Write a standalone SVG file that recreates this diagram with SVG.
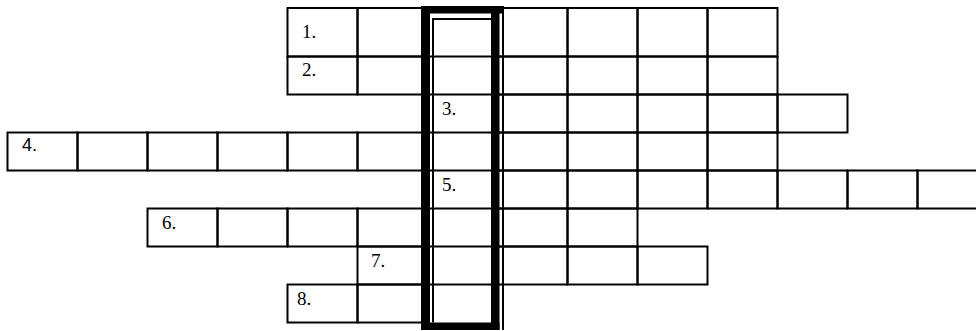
<svg xmlns="http://www.w3.org/2000/svg" width="976" height="331" viewBox="0 0 976 331">
<style>
.cell{fill:none;stroke:#000;stroke-width:2}
.div{stroke:#000;stroke-width:2}
.bar{fill:#000}
.num{font-family:"Liberation Serif","Times New Roman",serif;font-size:19px;fill:#000}
.sans{font-family:"Liberation Sans",Arial,sans-serif;font-size:18px;fill:#000}
</style>
<defs>
<rect id="c" class="cell" width="70" height="38"/>
</defs>
<rect width="976" height="331" fill="#fff"/>
<g id="row1">
<rect class="cell" x="287.5" y="8" width="70" height="48.5"/>
<rect class="cell" x="357.5" y="8" width="70" height="48.5"/>
<rect class="cell" x="497.5" y="8" width="70" height="48.5"/>
<rect class="cell" x="567.5" y="8" width="70" height="48.5"/>
<rect class="cell" x="637.5" y="8" width="70" height="48.5"/>
<rect class="cell" x="707.5" y="8" width="70" height="48.5"/>
<text class="num" x="302" y="38">1.</text>
</g>
<g id="row2">
<use href="#c" x="287.5" y="56.5"/><use href="#c" x="357.5" y="56.5"/>
<use href="#c" x="497.5" y="56.5"/><use href="#c" x="567.5" y="56.5"/><use href="#c" x="637.5" y="56.5"/><use href="#c" x="707.5" y="56.5"/>
<text class="num" x="302" y="76">2.</text>
</g>
<g id="row3">
<use href="#c" x="497.5" y="94.5"/><use href="#c" x="567.5" y="94.5"/><use href="#c" x="637.5" y="94.5"/><use href="#c" x="707.5" y="94.5"/><use href="#c" x="777.5" y="94.5"/>
<text class="num" x="442" y="115">3.</text>
</g>
<g id="row4">
<use href="#c" x="7.5" y="132.5"/><use href="#c" x="77.5" y="132.5"/><use href="#c" x="147.5" y="132.5"/><use href="#c" x="217.5" y="132.5"/><use href="#c" x="287.5" y="132.5"/><use href="#c" x="357.5" y="132.5"/>
<use href="#c" x="497.5" y="132.5"/><use href="#c" x="567.5" y="132.5"/><use href="#c" x="637.5" y="132.5"/><use href="#c" x="707.5" y="132.5"/>
<text class="sans" x="22" y="151">4.</text>
</g>
<g id="row5">
<use href="#c" x="497.5" y="170.5"/><use href="#c" x="567.5" y="170.5"/><use href="#c" x="637.5" y="170.5"/><use href="#c" x="707.5" y="170.5"/><use href="#c" x="777.5" y="170.5"/><use href="#c" x="847.5" y="170.5"/><use href="#c" x="917.5" y="170.5"/>
<text class="num" x="442" y="191">5.</text>
</g>
<g id="row6">
<use href="#c" x="147.5" y="208.5"/><use href="#c" x="217.5" y="208.5"/><use href="#c" x="287.5" y="208.5"/><use href="#c" x="357.5" y="208.5"/>
<use href="#c" x="497.5" y="208.5"/><use href="#c" x="567.5" y="208.5"/>
<text class="num" x="162" y="229">6.</text>
</g>
<g id="row7">
<use href="#c" x="357.5" y="246.5"/>
<use href="#c" x="497.5" y="246.5"/><use href="#c" x="567.5" y="246.5"/><use href="#c" x="637.5" y="246.5"/>
<text class="num" x="371" y="267">7.</text>
</g>
<g id="row8">
<use href="#c" x="287.5" y="284.5"/><use href="#c" x="357.5" y="284.5"/>
<text class="num" x="297" y="305">8.</text>
</g>
<g id="keyword-column">
<line class="div" x1="430" y1="56.5" x2="491" y2="56.5"/>
<line class="div" x1="430" y1="94.5" x2="491" y2="94.5"/>
<line class="div" x1="430" y1="132.5" x2="491" y2="132.5"/>
<line class="div" x1="430" y1="170.5" x2="491" y2="170.5"/>
<line class="div" x1="430" y1="208.5" x2="491" y2="208.5"/>
<line class="div" x1="430" y1="246.5" x2="491" y2="246.5"/>
<line class="div" x1="430" y1="284.5" x2="491" y2="284.5"/>
<rect class="bar" x="421" y="6" width="83" height="7.5"/>
<rect class="bar" x="421" y="6" width="9" height="324"/>
<rect class="bar" x="491" y="6" width="8.5" height="324"/>
<rect class="bar" x="421" y="322.5" width="78.5" height="7.5"/>
<rect class="bar" x="502" y="6" width="2" height="324"/>
<rect class="bar" x="432" y="18" width="2" height="304.5"/>
<rect class="bar" x="432" y="18" width="59" height="2"/>
</g>
<g id="connectors"/>
</svg>
